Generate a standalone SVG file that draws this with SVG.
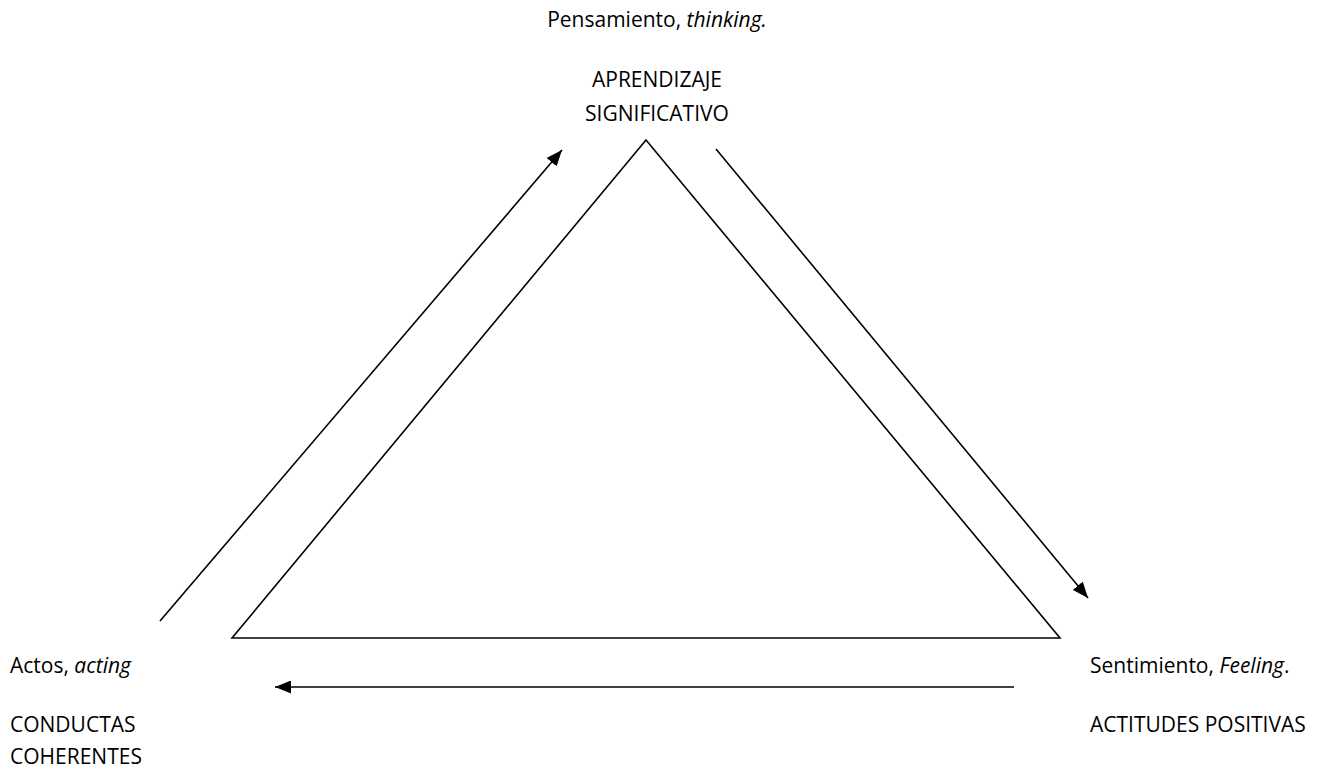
<svg xmlns="http://www.w3.org/2000/svg" width="1321" height="770" viewBox="0 0 1321 770">
  <style>
    text { font-family: "Open Sans", "Noto Sans", sans-serif; font-size: 21px; fill: #000; }
    .c { text-anchor: middle; }
    .it { font-style: italic; }
    .ln { fill: none; stroke: #000; stroke-width: 1.6; }
  </style>
  <defs>
    <marker id="head" viewBox="0 0 16 13" refX="16" refY="6.5" markerWidth="16" markerHeight="13" markerUnits="userSpaceOnUse" orient="auto">
      <path d="M0,0 L16,6.5 L0,13 Z" fill="#000"/>
    </marker>
  </defs>
  <rect width="1321" height="770" fill="#fff"/>

  <!-- central triangle -->
  <g id="triangle">
    <polygon class="ln" points="646,140 1060,638 232,638"/>
  </g>

  <!-- cycle arrows -->
  <g id="connectors">
    <line class="ln" x1="160" y1="621" x2="562" y2="150" marker-end="url(#head)"/>
    <line class="ln" x1="716" y1="149" x2="1088" y2="598" marker-end="url(#head)"/>
    <line class="ln" x1="1014" y1="687" x2="275" y2="687" marker-end="url(#head)"/>
  </g>

  <g id="node-thinking">
    <text x="657" y="27" class="c">Pensamiento, <tspan class="it">thinking.</tspan></text>
    <text x="657" y="87" class="c">APRENDIZAJE</text>
    <text x="657" y="121" class="c">SIGNIFICATIVO</text>
  </g>

  <g id="node-acting">
    <text x="10" y="673">Actos, <tspan class="it">acting</tspan></text>
    <text x="10" y="732">CONDUCTAS</text>
    <text x="10" y="764">COHERENTES</text>
  </g>

  <g id="node-feeling">
    <text x="1090" y="673">Sentimiento, <tspan class="it">Feeling</tspan>.</text>
    <text x="1090" y="732">ACTITUDES POSITIVAS</text>
  </g>
</svg>
